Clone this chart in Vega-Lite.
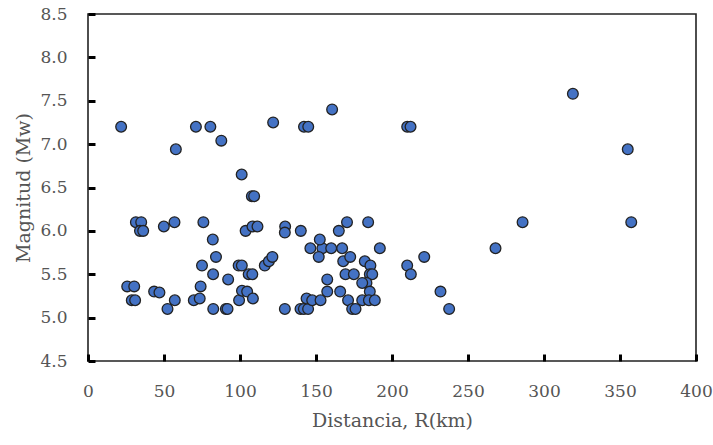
{
  "$schema": "https://vega.github.io/schema/vega-lite/v6.json",
  "width": 608,
  "height": 347,
  "autosize": {"type": "none"},
  "padding": {"left": 88, "top": 14, "right": 17, "bottom": 84},
  "config": {
    "view": {"stroke": "#222", "strokeWidth": 1.6},
    "axis": {
      "labelFont": "DejaVu Serif",
      "titleFont": "DejaVu Serif",
      "labelColor": "#555",
      "titleColor": "#555",
      "labelFontSize": 17,
      "titleFontSize": 19,
      "titleFontWeight": "normal",
      "grid": false,
      "labelFlush": false,
      "labelOverlap": false
    }
  },
  "data": {
    "values": [
      {"R": 21.8, "M": 7.2}, {"R": 57.8, "M": 6.94}, {"R": 71.0, "M": 7.2}, {"R": 80.5, "M": 7.2},
      {"R": 87.7, "M": 7.04}, {"R": 121.8, "M": 7.25}, {"R": 142.1, "M": 7.2}, {"R": 144.9, "M": 7.2},
      {"R": 160.6, "M": 7.4}, {"R": 210.0, "M": 7.2}, {"R": 212.2, "M": 7.2}, {"R": 319.0, "M": 7.58},
      {"R": 355.1, "M": 6.94}, {"R": 357.4, "M": 6.1}, {"R": 285.9, "M": 6.1}, {"R": 268.1, "M": 5.8},
      {"R": 221.2, "M": 5.7}, {"R": 210.0, "M": 5.6}, {"R": 212.4, "M": 5.5}, {"R": 231.9, "M": 5.3},
      {"R": 237.6, "M": 5.1}, {"R": 101.1, "M": 6.65}, {"R": 107.8, "M": 6.4}, {"R": 109.3, "M": 6.4},
      {"R": 31.5, "M": 6.1}, {"R": 35.0, "M": 6.1}, {"R": 34.2, "M": 6.0}, {"R": 36.3, "M": 6.0},
      {"R": 49.9, "M": 6.05}, {"R": 56.9, "M": 6.1}, {"R": 75.9, "M": 6.1}, {"R": 103.7, "M": 6.0},
      {"R": 108.2, "M": 6.05}, {"R": 111.5, "M": 6.05}, {"R": 129.7, "M": 6.05}, {"R": 129.5, "M": 5.98},
      {"R": 140.0, "M": 6.0}, {"R": 165.0, "M": 6.0}, {"R": 170.4, "M": 6.1}, {"R": 184.3, "M": 6.1},
      {"R": 82.1, "M": 5.9}, {"R": 84.2, "M": 5.7}, {"R": 75.0, "M": 5.6}, {"R": 99.1, "M": 5.6},
      {"R": 101.2, "M": 5.6}, {"R": 82.3, "M": 5.5}, {"R": 92.2, "M": 5.44}, {"R": 105.7, "M": 5.5},
      {"R": 108.1, "M": 5.5}, {"R": 116.3, "M": 5.6}, {"R": 119.0, "M": 5.65}, {"R": 121.3, "M": 5.7},
      {"R": 25.8, "M": 5.36}, {"R": 30.4, "M": 5.36}, {"R": 28.8, "M": 5.2}, {"R": 31.0, "M": 5.2},
      {"R": 43.5, "M": 5.3}, {"R": 47.0, "M": 5.29}, {"R": 52.3, "M": 5.1}, {"R": 57.1, "M": 5.2},
      {"R": 69.6, "M": 5.2}, {"R": 73.5, "M": 5.22}, {"R": 74.1, "M": 5.36}, {"R": 82.4, "M": 5.1},
      {"R": 90.7, "M": 5.1}, {"R": 91.8, "M": 5.1}, {"R": 99.4, "M": 5.2}, {"R": 101.3, "M": 5.31},
      {"R": 104.7, "M": 5.3}, {"R": 108.5, "M": 5.22}, {"R": 129.5, "M": 5.1}, {"R": 139.8, "M": 5.1},
      {"R": 142.0, "M": 5.1}, {"R": 144.8, "M": 5.1}, {"R": 143.8, "M": 5.22}, {"R": 147.5, "M": 5.2},
      {"R": 146.3, "M": 5.8}, {"R": 154.2, "M": 5.8}, {"R": 160.0, "M": 5.8}, {"R": 152.5, "M": 5.9},
      {"R": 151.8, "M": 5.7}, {"R": 157.4, "M": 5.44}, {"R": 157.4, "M": 5.3}, {"R": 153.0, "M": 5.2},
      {"R": 167.2, "M": 5.8}, {"R": 167.9, "M": 5.65}, {"R": 172.5, "M": 5.7}, {"R": 169.4, "M": 5.5},
      {"R": 174.9, "M": 5.5}, {"R": 165.9, "M": 5.3}, {"R": 171.1, "M": 5.2}, {"R": 173.8, "M": 5.1},
      {"R": 176.0, "M": 5.1}, {"R": 192.0, "M": 5.8}, {"R": 182.1, "M": 5.65}, {"R": 185.8, "M": 5.6},
      {"R": 185.4, "M": 5.5}, {"R": 187.0, "M": 5.5}, {"R": 183.2, "M": 5.4}, {"R": 180.4, "M": 5.4},
      {"R": 185.4, "M": 5.3}, {"R": 180.4, "M": 5.2}, {"R": 184.8, "M": 5.2}, {"R": 188.7, "M": 5.2}
    ]
  },
  "mark": {"type": "point", "shape": "circle", "filled": true, "size": 115, "fill": "#4472C4", "stroke": "#222", "strokeWidth": 1.3, "opacity": 1},
  "encoding": {
    "x": {
      "field": "R", "type": "quantitative",
      "scale": {"domain": [0, 400], "nice": false, "zero": false},
      "axis": {"title": "Distancia, R(km)", "values": [0, 50, 100, 150, 200, 250, 300, 350, 400], "format": "d",
        "domain": false, "ticks": true, "tickSize": 7, "tickWidth": 3, "tickColor": "black", "tickOpacity": 1, "offset": -7,
        "labelPadding": 22, "titlePadding": 12}
    },
    "y": {
      "field": "M", "type": "quantitative",
      "scale": {"domain": [4.5, 8.5], "nice": false, "zero": false},
      "axis": {"title": "Magnitud (Mw)", "values": [4.5, 5, 5.5, 6, 6.5, 7, 7.5, 8, 8.5], "format": ".1f",
        "domain": false, "ticks": true, "tickSize": 7, "tickWidth": 3, "tickColor": "black", "tickOpacity": 1, "offset": -7,
        "labelPadding": 21, "titlePadding": 6}
    }
  }
}
